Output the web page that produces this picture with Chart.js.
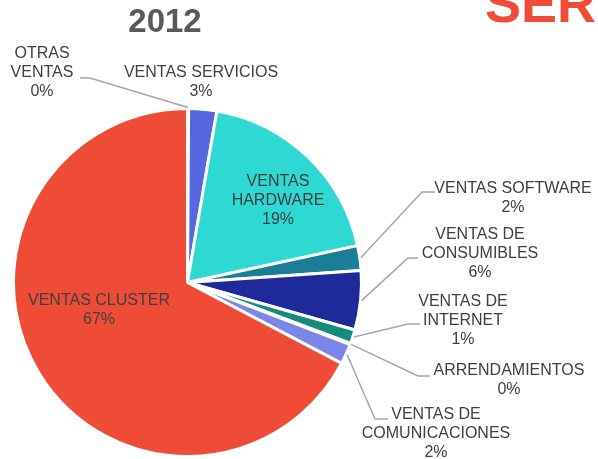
<!DOCTYPE html>
<html>
<head>
<meta charset="utf-8">
<script src="https://cdn.jsdelivr.net/npm/chart.js@4/dist/chart.umd.min.js"></script>
<style>
  html, body { margin: 0; padding: 0; background: #fff; overflow: hidden; }
  canvas { display: block; }
</style>
</head>
<body>
<canvas id="c" width="598" height="459"></canvas>
<script>
// ---- data ----
const categories = [
  ["OTRAS", "VENTAS"],
  ["VENTAS SERVICIOS"],
  ["VENTAS", "HARDWARE"],
  ["VENTAS SOFTWARE"],
  ["VENTAS DE", "CONSUMIBLES"],
  ["VENTAS DE", "INTERNET"],
  ["ARRENDAMIENTOS"],
  ["VENTAS DE", "COMUNICACIONES"],
  ["VENTAS CLUSTER"]
];
const shares = [0.1, 2.6, 18.9, 2.3, 5.5, 1.3, 0.1, 1.9, 67.3];
const percentLabels = ["0%", "3%", "19%", "2%", "6%", "1%", "0%", "2%", "67%"];
const chartTitle = "2012";
const headerText = "SER";

// ---- styling / layout ----
const colors = ["#8C8C8C", "#5667DF", "#2ED8D3", "#197E96", "#1E2A9A", "#178A80", "#6A6A6A", "#7C86E8", "#EE4C37"];
// label placement: cx = text centre x, y = first line middle y; leader: [tailX, tailY, elbowX] or null
const labelLayout = [
  { cx: 42,  y: 54,  leader: [80, 78, 90] },
  { cx: 201, y: 73,  leader: null },
  { cx: 278, y: 182, leader: null },
  { cx: 513, y: 189, leader: [435, 192, 422] },
  { cx: 480, y: 235, leader: [418, 258, 408] },
  { cx: 463, y: 302, leader: [420, 324, 408] },
  { cx: 509, y: 371, leader: [430, 376, 418] },
  { cx: 436, y: 415, leader: [388, 419, 375] },
  { cx: 99,  y: 301, leader: null }
];

const labelPlugin = {
  id: 'labels',
  afterDraw(chart) {
    const ctx = chart.ctx;
    const meta = chart.getDatasetMeta(0);
    ctx.save();
    // header (clipped at top-right like the reference)
    ctx.fillStyle = "#EF4D38";
    ctx.font = "bold 54px 'Liberation Sans', Arial, sans-serif";
    ctx.textAlign = "left";
    ctx.textBaseline = "alphabetic";
    ctx.fillText(headerText, 485, 22);
    // title
    ctx.fillStyle = "#595959";
    ctx.font = "bold 33px 'Liberation Sans', Arial, sans-serif";
    ctx.textAlign = "center";
    ctx.textBaseline = "middle";
    ctx.fillText(chartTitle, 165, 23);
    // leader lines
    ctx.strokeStyle = "#A6A6A6";
    ctx.lineWidth = 1.5;
    meta.data.forEach((arc, i) => {
      const lay = labelLayout[i];
      if (!lay.leader) return;
      const p = arc.getProps(['x', 'y', 'startAngle', 'endAngle', 'outerRadius'], true);
      const mid = (p.startAngle + p.endAngle) / 2;
      const r = p.outerRadius + 1;
      const sx = p.x + Math.cos(mid) * r;
      const sy = p.y + Math.sin(mid) * r;
      const [tx, ty, ex] = lay.leader;
      ctx.beginPath();
      ctx.moveTo(tx, ty);
      ctx.lineTo(ex, ty);
      ctx.lineTo(sx, sy);
      ctx.stroke();
    });
    // labels
    ctx.fillStyle = "#404040";
    ctx.font = "16px 'Liberation Sans', Arial, sans-serif";
    ctx.textAlign = "center";
    ctx.textBaseline = "middle";
    const lh = 19;
    categories.forEach((lines, i) => {
      const lay = labelLayout[i];
      const all = lines.concat([percentLabels[i]]);
      all.forEach((t, k) => ctx.fillText(t, lay.cx, lay.y + k * lh));
    });
    ctx.restore();
  }
};

new Chart(document.getElementById('c'), {
  type: 'pie',
  data: {
    labels: categories.map(l => l.join(' ')),
    datasets: [{
      data: shares,
      backgroundColor: colors,
      borderColor: '#FFFFFF',
      borderWidth: 3
    }]
  },
  options: {
    responsive: false,
    animation: false,
    layout: { padding: { left: 12, top: 107, right: 235, bottom: 1 } },
    plugins: {
      legend: { display: false },
      tooltip: { enabled: false },
      title: { display: false }
    }
  },
  plugins: [labelPlugin]
});
</script>
</body>
</html>
